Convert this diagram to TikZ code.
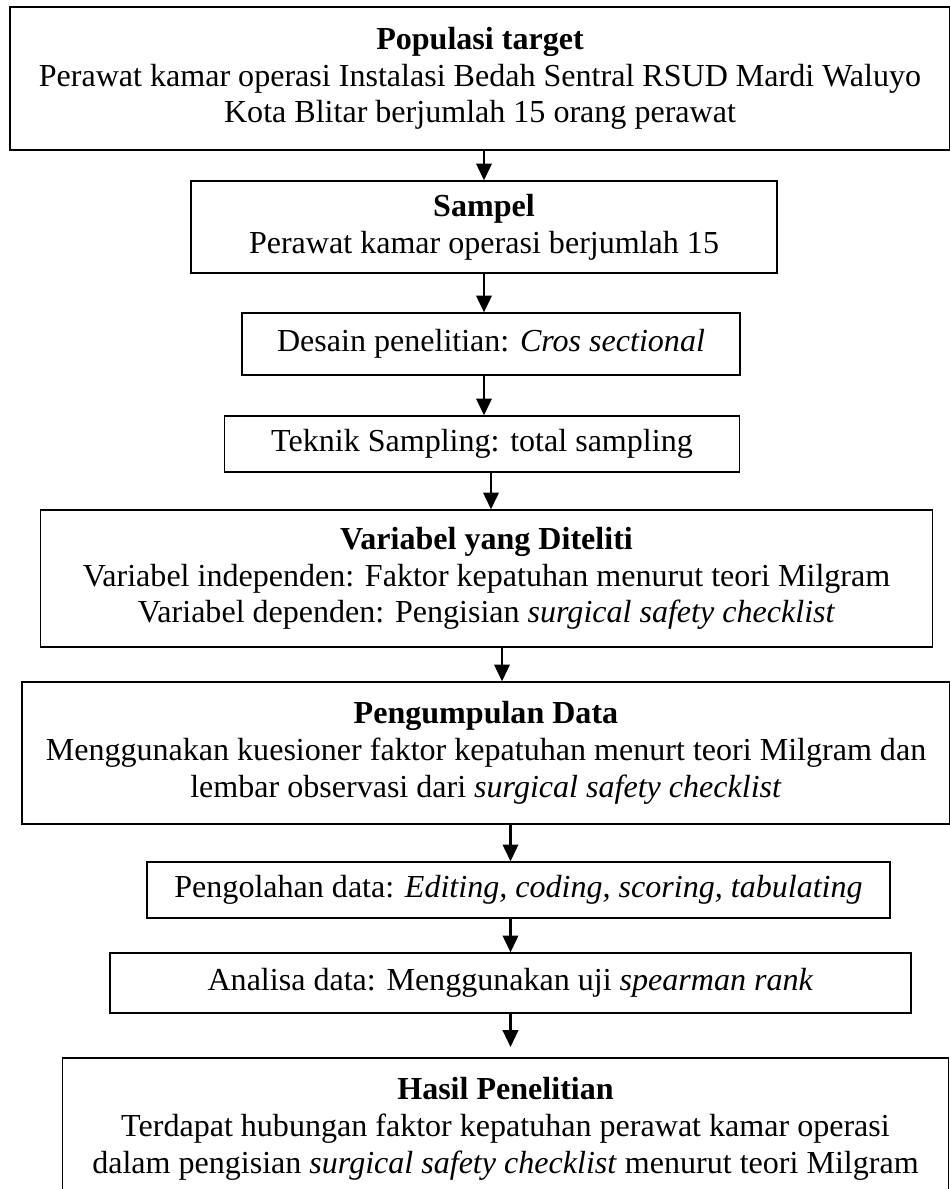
\documentclass[tikz,border=0pt]{standalone}
\usepackage{fontspec}
\setmainfont{Liberation Serif}
\usetikzlibrary{arrows.meta,positioning}

\tikzset{
  box/.style={draw, line width=0.5pt, align=center, inner sep=0pt,
    font=\fontsize{12.4}{14.2}\selectfont},
  arr/.style={-{Triangle[width=6pt,length=6.5pt]}, line width=0.8pt},
}

\begin{document}
\begin{tikzpicture}[x=0.0136cm, y=-0.0136cm]
  \clip (0,0) rectangle (950,1189);
  % --- population and sample ---
  \node[box, minimum width=12.78cm, minimum height=1.945cm] (populasi) at (480,78.5)
    {\textbf{Populasi target}\\
     Perawat kamar operasi Instalasi Bedah Sentral RSUD Mardi Waluyo\\
     Kota Blitar berjumlah 15 orang perawat};
  \node[box, minimum width=7.97cm, minimum height=1.251cm] (sampel) at (484,227)
    {\textbf{Sampel}\\ Perawat kamar operasi berjumlah 15};
  % --- design and sampling ---
  \node[box, minimum width=6.77cm, minimum height=0.843cm] (desain) at (491,344)
    {Desain penelitian: \textit{Cros sectional}};
  \node[box, minimum width=7.00cm, minimum height=0.762cm] (teknik) at (482,444)
    {Teknik Sampling: total sampling};
  % --- variables and data collection ---
  \node[box, minimum width=12.12cm, minimum height=1.863cm] (variabel) at (486.5,578.5)
    {\textbf{Variabel yang Diteliti}\\
     Variabel independen: Faktor kepatuhan menurut teori Milgram\\
     Variabel dependen: Pengisian \textit{surgical safety checklist}};
  \node[box, minimum width=12.62cm, minimum height=1.931cm] (pengumpulan) at (486,753)
    {\textbf{Pengumpulan Data}\\
     Menggunakan kuesioner faktor kepatuhan menurt teori Milgram dan\\
     lembar observasi dari \textit{surgical safety checklist}};
  % --- processing, analysis, result ---
  \node[box, minimum width=10.10cm, minimum height=0.762cm] (pengolahan) at (518.5,890)
    {Pengolahan data: \textit{Editing, coding, scoring, tabulating}};
  \node[box, minimum width=10.89cm, minimum height=0.816cm] (analisa) at (510.5,983)
    {Analisa data: Menggunakan uji \textit{spearman rank}};
  \node[box, minimum width=12.04cm, minimum height=1.931cm] (hasil) at (505.5,1129)
    {\textbf{Hasil Penelitian}\\
     Terdapat hubungan faktor kepatuhan perawat kamar operasi\\
     dalam pengisian \textit{surgical safety checklist} menurut teori Milgram};

  % arrows
  \draw[arr] (sampel.north |- populasi.south) -- (sampel.north);
  \draw[arr] (sampel.south) -- (sampel.south |- desain.north);
  \draw[arr] (desain.south -| sampel.south) -- (sampel.south |- teknik.north);
  \draw[arr] (desain.south |- teknik.south) -- (desain.south |- variabel.north);
  \draw[arr] ([xshift=15.5*0.0136cm]variabel.south) -- ([xshift=15.5*0.0136cm]variabel.south |- pengumpulan.north);
  \draw[arr] (analisa.south |- pengumpulan.south) -- (analisa.north |- pengolahan.north);
  \draw[arr] (analisa.north |- pengolahan.south) -- (analisa.north);
  \draw[arr, shorten >=4pt] (analisa.south) -- (analisa.south |- hasil.north);
\end{tikzpicture}
\end{document}
